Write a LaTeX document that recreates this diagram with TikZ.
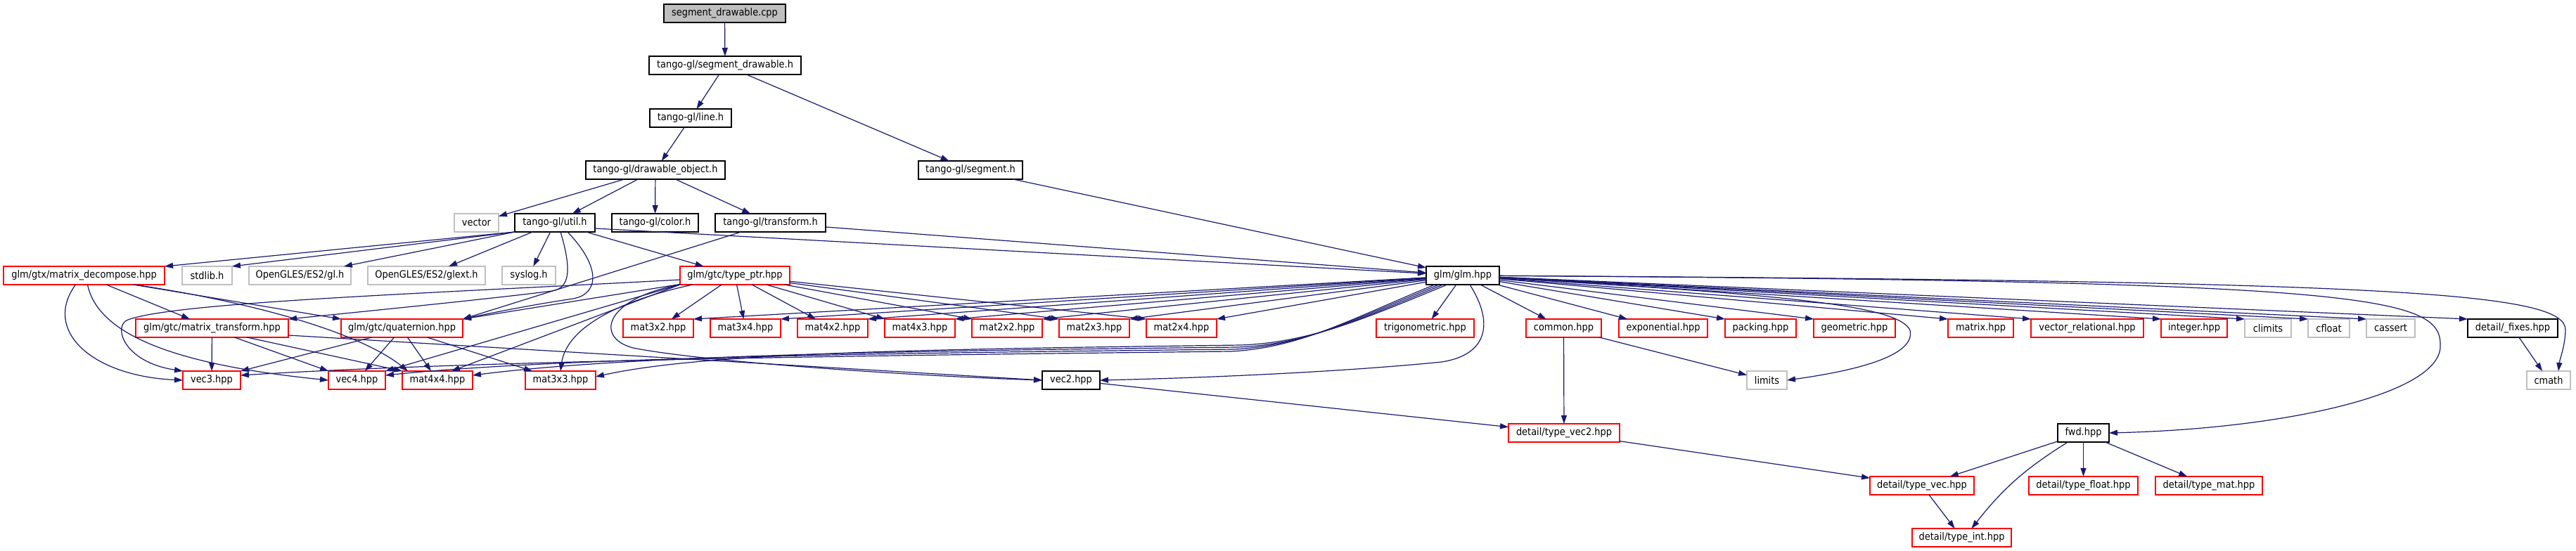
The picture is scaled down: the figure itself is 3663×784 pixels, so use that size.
\documentclass[tikz,border=0pt]{standalone}
\usepackage{fontspec}
\setmainfont{DejaVu Sans}[FakeStretch=0.9]
\usepackage{xcolor}
\definecolor{edgeblue}{RGB}{25,25,112}
\definecolor{cutred}{RGB}{255,0,0}
\definecolor{sysgray}{RGB}{191,191,191}
\usepackage{tikz}
\usetikzlibrary{arrows.meta}

\begin{document}
\begin{tikzpicture}[
    x=1pt, y=-1pt,
    file/.style={rectangle, draw, line width=1.2pt, minimum height=26pt, inner sep=0pt, outer sep=0pt, align=center, font=\fontsize{14.4pt}{17pt}\selectfont},
    docfile/.style={file, draw=black, line width=1.6pt},
    cutfile/.style={file, draw=cutred},
    sysfile/.style={file, draw=sysgray},
    srcfile/.style={file, draw=black, line width=1.6pt, fill=sysgray},
    arrow/.style={-{Triangle[length=12pt, width=8pt]}, color=edgeblue, line width=1.2pt}
]

\path[fill=white] (0,0) rectangle (3663,784);

% tango-gl headers
\node[srcfile, minimum width=173pt] (cpp) at (1030.5,19) {segment\_drawable.cpp};
\node[docfile, minimum width=216pt] (segdraw) at (1031,93) {tango-gl/segment\_drawable.h};
\node[docfile, minimum width=116pt] (lineh) at (982,168) {tango-gl/line.h};
\node[docfile, minimum width=198pt] (drawobj) at (932,242) {tango-gl/drawable\_object.h};
\node[docfile, minimum width=148pt] (segment) at (1380,242) {tango-gl/segment.h};
\node[sysfile, minimum width=63pt] (vector) at (677.5,317) {vector};
\node[docfile, minimum width=114pt] (util) at (789,317) {tango-gl/util.h};
\node[docfile, minimum width=123pt] (colorh) at (931.5,317) {tango-gl/color.h};
\node[docfile, minimum width=157pt] (transform) at (1095.5,317) {tango-gl/transform.h};

% row of util.h includes
\node[cutfile, minimum width=229pt] (decompose) at (119.5,392) {glm/gtx/matrix\_decompose.hpp};
\node[sysfile, minimum width=71pt] (stdlib) at (294.5,392) {stdlib.h};
\node[sysfile, minimum width=145pt] (glh) at (426.5,392) {OpenGLES/ES2/gl.h};
\node[sysfile, minimum width=167pt] (glext) at (606.5,392) {OpenGLES/ES2/glext.h};
\node[sysfile, minimum width=76pt] (syslog) at (752,392) {syslog.h};
\node[cutfile, minimum width=156pt] (typeptr) at (1045,392) {glm/gtc/type\_ptr.hpp};
\node[docfile, minimum width=104pt] (glm) at (2080,392) {glm/glm.hpp};

% matrices and glm parts
\node[cutfile, minimum width=217pt] (mtransform) at (301.5,467) {glm/gtc/matrix\_transform.hpp};
\node[cutfile, minimum width=173pt] (quat) at (571.5,467) {glm/gtc/quaternion.hpp};
\node[cutfile, minimum width=100pt] (m3x2) at (936,467) {mat3x2.hpp};
\node[cutfile, minimum width=100pt] (m3x4) at (1060,467) {mat3x4.hpp};
\node[cutfile, minimum width=100pt] (m4x2) at (1184,467) {mat4x2.hpp};
\node[cutfile, minimum width=100pt] (m4x3) at (1308,467) {mat4x3.hpp};
\node[cutfile, minimum width=100pt] (m2x2) at (1432,467) {mat2x2.hpp};
\node[cutfile, minimum width=100pt] (m2x3) at (1556,467) {mat2x3.hpp};
\node[cutfile, minimum width=100pt] (m2x4) at (1680,467) {mat2x4.hpp};
\node[cutfile, minimum width=139pt] (trig) at (2026.5,467) {trigonometric.hpp};
\node[cutfile, minimum width=107pt] (common) at (2223.5,467) {common.hpp};
\node[cutfile, minimum width=126pt] (expo) at (2365,467) {exponential.hpp};
\node[cutfile, minimum width=101pt] (packing) at (2503.5,467) {packing.hpp};
\node[cutfile, minimum width=116pt] (geometric) at (2637,467) {geometric.hpp};
\node[cutfile, minimum width=93pt] (matrixh) at (2816.5,467) {matrix.hpp};
\node[cutfile, minimum width=160pt] (vecrel) at (2968,467) {vector\_relational.hpp};
\node[cutfile, minimum width=94pt] (integer) at (3120,467) {integer.hpp};
\node[sysfile, minimum width=66pt] (climits) at (3225,467) {climits};
\node[sysfile, minimum width=59pt] (cfloat) at (3311.5,467) {cfloat};
\node[sysfile, minimum width=69pt] (cassert) at (3399.5,467) {cassert};
\node[docfile, minimum width=128pt] (fixes) at (3573,467) {detail/\_fixes.hpp};

% vectors
\node[cutfile, minimum width=82pt] (vec3) at (301,541) {vec3.hpp};
\node[cutfile, minimum width=81pt] (vec4) at (507.5,541) {vec4.hpp};
\node[cutfile, minimum width=100pt] (m4x4) at (622,541) {mat4x4.hpp};
\node[cutfile, minimum width=100pt] (m3x3) at (797,541) {mat3x3.hpp};
\node[docfile, minimum width=82pt] (vec2) at (1523,541) {vec2.hpp};
\node[sysfile, minimum width=57pt] (limits) at (2512.5,541) {limits};
\node[sysfile, minimum width=62pt] (cmath) at (3624,541) {cmath};

% detail types
\node[cutfile, minimum width=158pt] (tvec2) at (2224,616) {detail/type\_vec2.hpp};
\node[docfile, minimum width=73pt] (fwd) at (2962.5,616) {fwd.hpp};
\node[cutfile, minimum width=148pt] (tvec) at (2733,691) {detail/type\_vec.hpp};
\node[cutfile, minimum width=155pt] (tfloat) at (2962.5,691) {detail/type\_float.hpp};
\node[cutfile, minimum width=152pt] (tmat) at (3141,691) {detail/type\_mat.hpp};
\node[cutfile, minimum width=141pt] (tint) at (2789.5,765) {detail/type\_int.hpp};

% top part
\draw[arrow] (cpp) -- (segdraw);
\draw[arrow] (segdraw) -- (lineh);
\draw[arrow] (segdraw) -- (segment);
\draw[arrow] (lineh) -- (drawobj);
\draw[arrow] (drawobj) -- (vector);
\draw[arrow] (drawobj) -- (util);
\draw[arrow] (drawobj) -- (colorh);
\draw[arrow] (drawobj) -- (transform);
\draw[arrow] (segment) -- (glm);
\draw[arrow] (transform) -- (glm);
\draw[arrow] (transform) -- (quat.north east);

% util.h
\draw[arrow] (util.south west) -- (decompose.north east);
\draw[arrow] (util.south west) -- (stdlib.north east);
\draw[arrow] (util.south west) -- ([xshift=-10]glh.north east);
\draw[arrow] (util) -- (glext);
\draw[arrow] (util) -- (syslog);
\draw[arrow] (util) -- (typeptr);
\draw[arrow] ([yshift=-8]util.east) -- (glm);
\draw[arrow] ([xshift=8]util.south) .. controls (812,380) and (812,410) .. (785,414) .. controls (700,425) and (500,445) .. (mtransform.north east);
\draw[arrow] ([xshift=18]util.south) .. controls (855,380) and (852,418) .. (815,425) .. controls (760,433) and (700,445) .. (quat.north east);

% matrix_decompose.hpp
\draw[arrow] ([xshift=-12]decompose.south) .. controls (60,470) and (130,535) .. (vec3.west);
\draw[arrow] ([xshift=5]decompose.south) .. controls (140,480) and (260,520) .. (vec4.west);
\draw[arrow] (decompose) -- (mtransform);
\draw[arrow] ([xshift=70]decompose.south) -- (quat.north west);
\draw[arrow] ([xshift=72]decompose.south) .. controls (390,435) and (520,480) .. ([xshift=8]m4x4.north west);

% matrix_transform.hpp
\draw[arrow] (mtransform) -- (vec3);
\draw[arrow] ([xshift=32]mtransform.south) -- (vec4.north west);
\draw[arrow] ([xshift=50]mtransform.south) -- (m4x4.north west);
\draw[arrow] ([yshift=-10]mtransform.east) -- (vec2.west);

% quaternion.hpp
\draw[arrow] ([xshift=-43]quat.south) -- (vec3.north east);
\draw[arrow] ([xshift=-11]quat.south) -- (vec4);
\draw[arrow] ([xshift=8]quat.south) -- (m4x4);
\draw[arrow] ([xshift=36]quat.south) -- ([xshift=10]m3x3.north west);

% type_ptr.hpp
\draw[arrow] (typeptr) -- (quat.north east);
\draw[arrow] ([yshift=-6]typeptr.west) .. controls (600,418) and (250,430) .. (182,455) .. controls (160,463) and (175,515) .. (vec3.north west);
\draw[arrow] (typeptr.south west) -- (vec4.north east);
\draw[arrow] (typeptr.south west) -- ([xshift=-30]m4x4.north east);
\draw[arrow] ([xshift=-60]typeptr.south) .. controls (870,430) and (805,470) .. (m3x3.north);
\draw[arrow] (typeptr.south west) .. controls (860,425) and (845,480) .. (900,495) .. controls (1000,515) and (1300,535) .. (vec2.west);
\draw[arrow] (typeptr) -- (m3x2);
\draw[arrow] (typeptr) -- (m3x4);
\draw[arrow] (typeptr) -- (m4x2);
\draw[arrow] (typeptr) -- (m4x3.north west);
\draw[arrow] (typeptr) -- (m2x2.north west);
\draw[arrow] (typeptr) -- (m2x3.north west);
\draw[arrow] (typeptr) -- (m2x4.north west);

% glm.hpp, to the left
\draw[arrow] (glm) -- (m3x2.north east);
\draw[arrow] (glm) -- (m3x4.north east);
\draw[arrow] (glm) -- (m4x2.north east);
\draw[arrow] (glm) -- (m4x3.north east);
\draw[arrow] (glm) -- (m2x2.north east);
\draw[arrow] (glm) -- (m2x3.north east);
\draw[arrow] (glm) -- (m2x4.north east);
\draw[arrow] ([xshift=-40]glm.south) .. controls (1925,452) and (1850,495) .. (1750,500) .. controls (1300,505) and (700,512) .. ([yshift=7]vec3.east);
\draw[arrow] ([xshift=-34]glm.south) .. controls (1931,452) and (1855,492) .. (1755,497) .. controls (1300,502) and (800,508) .. ([yshift=7]vec4.east);
\draw[arrow] ([xshift=-28]glm.south) .. controls (1937,452) and (1860,490) .. (1760,494) .. controls (1300,499) and (900,505) .. ([yshift=7]m4x4.east);
\draw[arrow] ([xshift=-22]glm.south) .. controls (1943,452) and (1865,487) .. (1765,491) .. controls (1300,497) and (1000,502) .. ([yshift=5]m3x3.east);
\draw[arrow] ([xshift=10]glm.south) .. controls (2125,460) and (2115,505) .. (2050,515) .. controls (1900,530) and (1700,538) .. (vec2.east);

% glm.hpp, to the right
\draw[arrow] (glm) -- (trig);
\draw[arrow] (glm) -- (common);
\draw[arrow] (glm) -- ([xshift=12]expo.north west);
\draw[arrow] (glm) -- (packing.north west);
\draw[arrow] (glm) -- (geometric.north west);
\draw[arrow] (glm) -- (matrixh.north west);
\draw[arrow] (glm) -- (vecrel.north west);
\draw[arrow] (glm) -- (integer.north west);
\draw[arrow] (glm) -- (climits.north west);
\draw[arrow] (glm) -- (cfloat.north west);
\draw[arrow] (glm) -- (cassert.north west);
\draw[arrow] (glm) -- (fixes.north west);
\draw[arrow] (glm) .. controls (2550,420) and (2700,435) .. (2716,470) .. controls (2725,510) and (2620,530) .. (limits.east);
\draw[arrow] (glm) .. controls (3350,400) and (3470,420) .. (3470,490) .. controls (3475,560) and (3250,610) .. (fwd.east);
\draw[arrow] (glm) .. controls (3400,400) and (3650,415) .. (3648,470) .. controls (3647,495) and (3640,510) .. ([xshift=14]cmath.north);
\draw[arrow] (fixes) -- (cmath);

% details
\draw[arrow] (common) -- (limits);
\draw[arrow] (common) -- (tvec2);
\draw[arrow] (vec2) -- (tvec2);
\draw[arrow] (tvec2) -- (tvec);
\draw[arrow] (fwd) -- (tvec);
\draw[arrow] (fwd) -- (tfloat);
\draw[arrow] (fwd) -- (tmat);
\draw[arrow] ([xshift=-22]fwd.south) to[bend right=10] ([xshift=14]tint.north);
\draw[arrow] (tvec) -- (tint);

\end{tikzpicture}
\end{document}
